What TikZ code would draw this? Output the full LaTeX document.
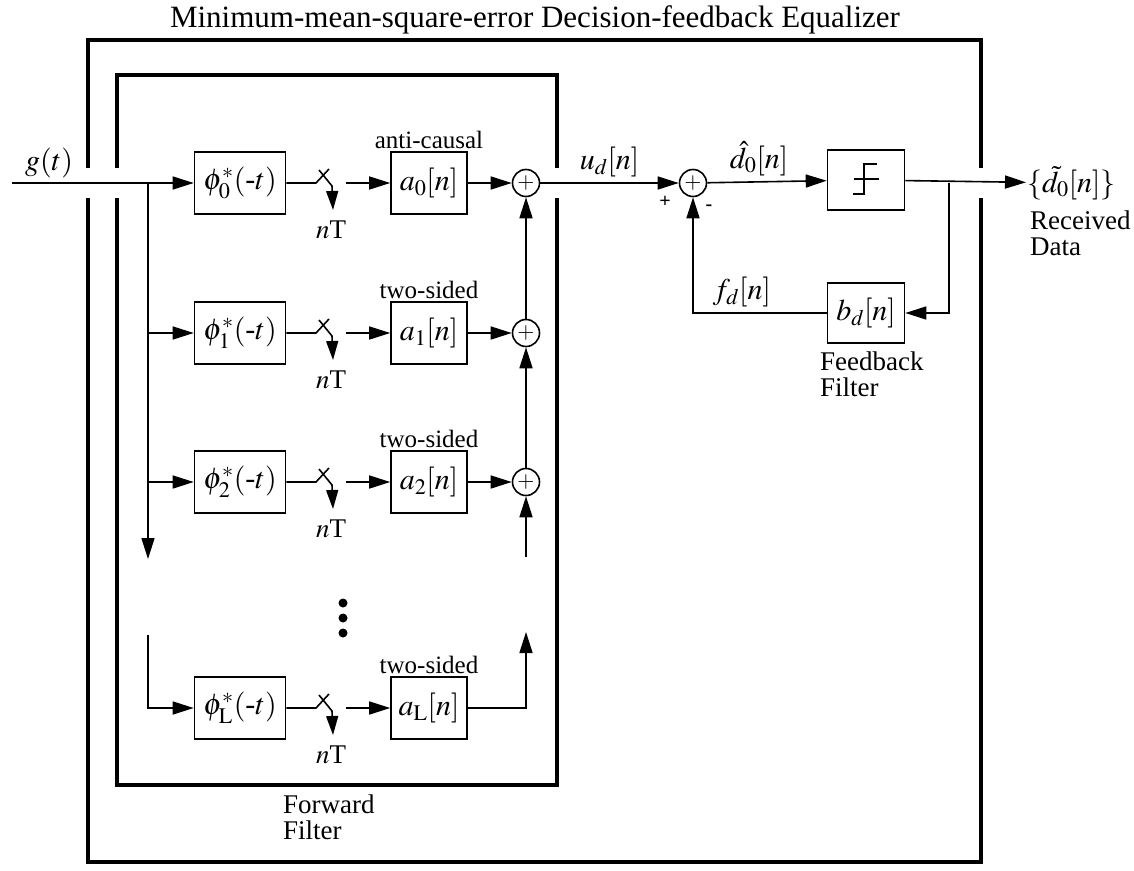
\documentclass[tikz,border=0pt]{standalone}
\usepackage{mathptmx}
\usepackage{fontspec}
\setmainfont{Liberation Serif}
\usetikzlibrary{arrows.meta,positioning}
\tikzset{
	wire/.style={line width=1.6pt},
	sig/.style={wire, -{Triangle[length=21pt,width=13pt]}},
	tick/.style={wire, -{Triangle[length=19pt,width=12pt]}},
	frame/.style={line width=4pt},
	blk/.style={draw, line width=1.6pt, minimum height=62pt, inner sep=1pt, font=\fontsize{30}{32}\selectfont},
	phibox/.style={blk, minimum width=91pt},
	abox/.style={blk, minimum width=76pt},
	sumnode/.style={draw, circle, line width=1.6pt, minimum size=27pt, inner sep=0pt, font=\fontsize{22}{22}\selectfont},
	lbl/.style={font=\fontsize{27}{26}\selectfont, inner sep=1pt},
	mlbl/.style={font=\fontsize{30}{30}\selectfont, inner sep=1pt},
	tagtxt/.style={font=\fontsize{25}{24}\selectfont, inner sep=2pt},
	sign/.style={font=\fontsize{20}{20}\bfseries\selectfont, inner sep=0pt},
}
\begin{document}
\begin{tikzpicture}[x=1pt,y=-1pt]
	\useasboundingbox (0,0) rectangle (1134,870);
	% outer equalizer frame and forward filter frame, open where the signal passes
	\draw[frame] (88,168) -- (88,40) -- (981,40) -- (981,168);
	\draw[frame] (981,198) -- (981,862) -- (88,862) -- (88,198);
	\draw[frame] (117,168) -- (117,75) -- (557,75) -- (557,168);
	\draw[frame] (557,198) -- (557,785) -- (117,785) -- (117,198);
	\node[lbl, font=\fontsize{31}{31}\selectfont] (title) at (535,20) {Minimum-mean-square-error Decision-feedback Equalizer};
	\node[lbl, align=left, anchor=north west] (fwd) at (282,794) {Forward\\Filter};
	% matched filter, sampler and tap filter for each branch
	\foreach \k/\y/\s/\kind in {0/183/0/anti-causal, 1/333/1/two-sided, 2/482/2/two-sided, L/708/\mathrm{L}/two-sided}{
		\node[phibox] (phi\k) at (240,\y) {$\phi^*_{\s}(\mbox{-}t)$};
		\node[abox] (a\k) at (429,\y) {$a_{\s}[n]$};
		\node[tagtxt, above=0pt of a\k] (tag\k) {\kind};
		\coordinate (swi\k) at (316,\y);
		\coordinate (swo\k) at (346,\y);
		\node[lbl] (nT\k) at (331,\y+47) {$n$T};
		\draw[wire] (phi\k) -- (swi\k) -- ++(13,-14);
		\draw[tick] (swi\k) ++(3,-13) -- ++(13,16) -- ++(1,24);
		\draw[sig] (swo\k) -- (a\k);
	}
	\node[sumnode] (s0) at (526,183) {$+$};
	\node[sumnode] (s1) at (526,333) {$+$};
	\node[sumnode] (s2) at (526,482) {$+$};
	\fill (343,603) circle (4.5) (343,618) circle (4.5) (343,633) circle (4.5);
	% input and branches
	\coordinate (gin) at (12,183);
	\coordinate (br) at (148,183);
	\coordinate (brend) at (148,559);
	\coordinate (brL) at (148,635);
	\node[mlbl] (g) at (49,163) {$g(t)$};
	\draw[sig] (gin) -- (phi0);
	\draw[sig] (br) -- (brend);
	\draw[sig] (br |- phi1) -- (phi1);
	\draw[sig] (br |- phi2) -- (phi2);
	\draw[sig] (brL) |- (phiL);
	% adders
	\draw[sig] (a0) -- (s0);
	\draw[sig] (a1) -- (s1);
	\draw[sig] (a2) -- (s2);
	\draw[sig] (s1) -- (s0);
	\draw[sig] (s2) -- (s1);
	\coordinate (s2in) at (526,557);
	\coordinate (aLup) at (526,632);
	\draw[sig] (s2in) -- (s2);
	\draw[sig] (aL) -| (aLup);
	% decision feedback part
	\node[sumnode] (sd) at (693,183) {$+$};
	\node[blk, minimum width=77pt, minimum height=60pt] (dec) at (866,180) {};
	\draw[wire] ([xshift=-13pt,yshift=-14pt]dec.center) -- ++(11,0) -- ++(0,-30) -- ++(13,0);
	\draw[wire] ([xshift=-12pt,yshift=1pt]dec.center) -- ++(25,0);
	\node[blk, minimum width=77pt, minimum height=60pt] (bd) at (866,313) {$b_d[n]$};
	\node[mlbl, anchor=west] (dout) at (1026,183) {$\{\tilde{d}_0[n]\}$};
	\node[lbl, align=left, anchor=north west] (rx) at (1029,210) {Received\\Data};
	\node[lbl, align=left, anchor=north west] (fbf) at (819,351) {Feedback\\Filter};
	\coordinate (tap) at (949,183);
	\draw[sig] (s0) -- node[mlbl, above=4pt] {$u_d[n]$} (sd);
	\draw[sig] (sd) -- node[mlbl, above=4pt, xshift=-8pt] {$\hat{d}_0[n]$} (dec);
	\draw[sig] (dec) -- (dout);
	\draw[sig] (tap) |- (bd);
	\draw[sig] (bd) -- node[mlbl, above=4pt, xshift=-18pt] {$f_d[n]$} (bd -| sd) -- (sd);
	\node[sign] (plus) at (665,202) {+};
	\node[sign] (minus) at (709,208) {-};
\end{tikzpicture}
\end{document}
